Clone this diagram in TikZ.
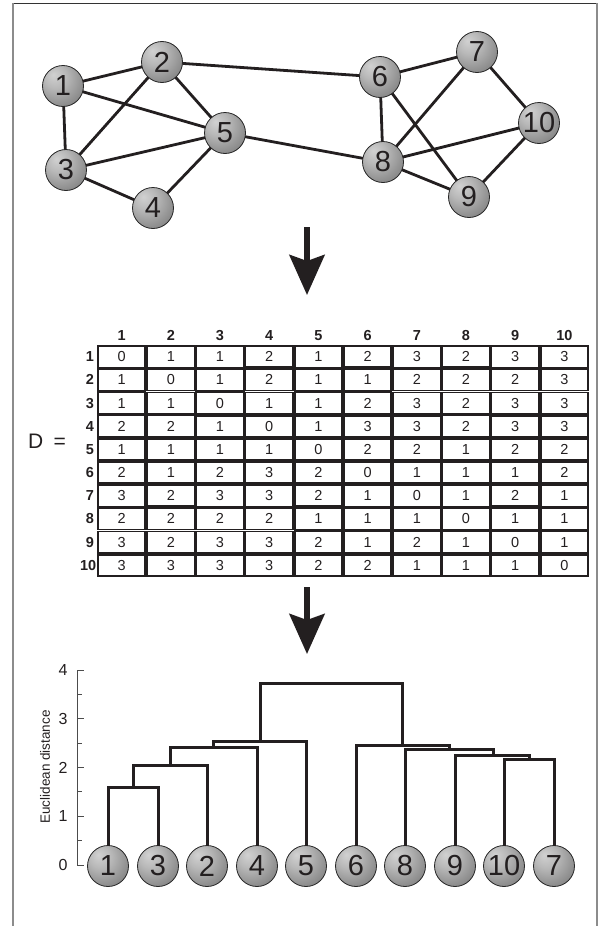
\documentclass[tikz,border=0pt]{standalone}
\usepackage{fontspec}
\setmainfont{Liberation Sans}
\usepackage{tkz-graph}
\usetikzlibrary{arrows.meta}
\usetikzlibrary{matrix}
\usetikzlibrary{shapes}

\definecolor{ink}{RGB}{35,31,32}
\pgfdeclareradialshading{orb}{\pgfpoint{-12bp}{14bp}}{color(0bp)=(black!18); color(14bp)=(black!28); color(34bp)=(black!47); color(50bp)=(black!62); color(70bp)=(black!75)}

\begin{document}
\begin{tikzpicture}[x = 1pt, y = -1pt]
\tikzstyle{VertexStyle}=[shape = circle,
                         minimum size = 41pt,
                         inner sep = 0pt,
                         shade, shading = orb,
                         draw = black!85,
                         line width = 0.8pt,
                         text = ink,
                         font = \fontsize{29}{29}\selectfont]
\tikzstyle{EdgeStyle}=[line width = 2.8pt, draw = ink]
\tikzstyle{cellbox}=[draw = ink, line width = 1.8pt,
                     minimum width = 47.4pt, minimum height = 21.3pt,
                     inner sep = 0pt, outer sep = 0pt, text = ink,
                     font = \fontsize{14.5}{15}\selectfont]
\tikzstyle{colhead}=[draw = none, minimum height = 20pt,
                     font = \fontsize{14.5}{15}\selectfont\bfseries]
\tikzstyle{rowhead}=[draw = none, minimum width = 0pt, text width = 14pt,
                     align = right, inner xsep = 3pt,
                     font = \fontsize{14.5}{15}\selectfont\bfseries]
\tikzstyle{bigarrow}=[line width = 6pt, draw = ink,
                      -{Stealth[length = 40pt, width = 35pt, inset = 6pt]}]
\tikzstyle{dendro}=[line width = 3pt, draw = ink]
\tikzstyle{axisline}=[line width = 0.9pt, draw = black!70]
\tikzstyle{ticklab}=[text = ink, font = \fontsize{16}{16}\selectfont]
\useasboundingbox (0,0) rectangle (600,926);
% frame
\draw[line width = 1pt, draw = black!80] (13,3) -- (597,3);
\draw[line width = 1.6pt, draw = black!45] (13,3) -- (13,926);
\draw[line width = 1.6pt, draw = black!45] (597,3) -- (597,926);
% network
\Vertex[x = 63, y = 86, L = 1]{g1}
\Vertex[x = 162, y = 62, L = 2]{g2}
\Vertex[x = 66, y = 170, L = 3]{g3}
\Vertex[x = 153, y = 208, L = 4]{g4}
\Vertex[x = 225, y = 133, L = 5]{g5}
\Vertex[x = 380, y = 77, L = 6]{g6}
\Vertex[x = 477, y = 52, L = 7]{g7}
\Vertex[x = 383, y = 162, L = 8]{g8}
\Vertex[x = 469, y = 197, L = 9]{g9}
\Vertex[x = 539, y = 123, L = 10]{g10}
\Edge[](g1)(g2)
\Edge[](g1)(g3)
\Edge[](g1)(g5)
\Edge[](g2)(g3)
\Edge[](g2)(g5)
\Edge[](g2)(g6)
\Edge[](g3)(g5)
\Edge[](g3)(g4)
\Edge[](g4)(g5)
\Edge[](g5)(g8)
\Edge[](g6)(g7)
\Edge[](g6)(g8)
\Edge[](g6)(g9)
\Edge[](g7)(g8)
\Edge[](g7)(g10)
\Edge[](g8)(g10)
\Edge[](g8)(g9)
\Edge[](g9)(g10)
\coordinate (a1s) at (307,227);
\coordinate (a1e) at (307,295);
\draw[bigarrow] (a1s) -- (a1e);
% distance matrix
\node[text = ink, font = \fontsize{21}{21}\selectfont] (dlabel) at (47,441) {D\hspace{0.5em}=};
\matrix (dist) [matrix of nodes, anchor = north west, inner sep = 0pt, outer sep = 0pt,
                nodes = {cellbox},
                column 1/.style = {nodes = {rowhead}},
                row 1/.style = {nodes = {colhead}}] at (77,325) {
   & 1 & 2 & 3 & 4 & 5 & 6 & 7 & 8 & 9 & 10 \\
 1 & 0 & 1 & 1 & 2 & 1 & 2 & 3 & 2 & 3 & 3 \\
 2 & 1 & 0 & 1 & 2 & 1 & 1 & 2 & 2 & 2 & 3 \\
 3 & 1 & 1 & 0 & 1 & 1 & 2 & 3 & 2 & 3 & 3 \\
 4 & 2 & 2 & 1 & 0 & 1 & 3 & 3 & 2 & 3 & 3 \\
 5 & 1 & 1 & 1 & 1 & 0 & 2 & 2 & 1 & 2 & 2 \\
 6 & 2 & 1 & 2 & 3 & 2 & 0 & 1 & 1 & 1 & 2 \\
 7 & 3 & 2 & 3 & 3 & 2 & 1 & 0 & 1 & 2 & 1 \\
 8 & 2 & 2 & 2 & 2 & 1 & 1 & 1 & 0 & 1 & 1 \\
 9 & 3 & 2 & 3 & 3 & 2 & 1 & 2 & 1 & 0 & 1 \\
10 & 3 & 3 & 3 & 3 & 2 & 2 & 1 & 1 & 1 & 0 \\
};
\coordinate (a2s) at (307,587);
\coordinate (a2e) at (307,654);
\draw[bigarrow] (a2s) -- (a2e);
% dendrogram axis
\draw[axisline] (77,670) -- (77,865);
\draw[axisline] (77,670) -- (84,670) (77,718.75) -- (84,718.75) (77,767.5) -- (84,767.5)
                (77,816.25) -- (84,816.25) (77,865) -- (84,865);
\draw[axisline] (77,694.4) -- (82,694.4) (77,743.1) -- (82,743.1)
                (77,791.9) -- (82,791.9) (77,840.6) -- (82,840.6);
\node[ticklab] (y0) at (63,865) {0};
\node[ticklab] (y1) at (63,816.25) {1};
\node[ticklab] (y2) at (63,767.5) {2};
\node[ticklab] (y3) at (63,718.75) {3};
\node[ticklab] (y4) at (63,670) {4};
\node[text = ink, rotate = 90, font = \fontsize{13.5}{14}\selectfont] (ylab) at (45,767) {Euclidean distance};
% leaves
\Vertex[x = 108, y = 866, L = 1]{l1}
\Vertex[x = 158, y = 866, L = 3]{l3}
\Vertex[x = 207, y = 866, L = 2]{l2}
\Vertex[x = 257, y = 866, L = 4]{l4}
\Vertex[x = 306, y = 866, L = 5]{l5}
\Vertex[x = 356, y = 866, L = 6]{l6}
\Vertex[x = 405, y = 866, L = 8]{l8}
\Vertex[x = 455, y = 866, L = 9]{l9}
\Vertex[x = 504, y = 866, L = 10]{l10}
\Vertex[x = 554, y = 866, L = 7]{l7}
% merges
\coordinate (m13) at (133,787);
\coordinate (m132) at (170.5,765);
\coordinate (m1324) at (213.75,747);
\coordinate (m13245) at (260,741);
\coordinate (m107) at (529,759);
\coordinate (m9) at (493,755);
\coordinate (m8) at (449.5,749);
\coordinate (m6) at (402,745);
\coordinate (root) at (331,683);
\draw[dendro] (l1) |- (m13) -| (l3);
\draw[dendro] (m13) |- (m132) -| (l2);
\draw[dendro] (m132) |- (m1324) -| (l4);
\draw[dendro] (m1324) |- (m13245) -| (l5);
\draw[dendro] (l10) |- (m107) -| (l7);
\draw[dendro] (l9) |- (m9) -| (m107);
\draw[dendro] (l8) |- (m8) -| (m9);
\draw[dendro] (l6) |- (m6) -| (m8);
\draw[dendro] (m13245) |- (root) -| (m6);
\end{tikzpicture}
\end{document}
